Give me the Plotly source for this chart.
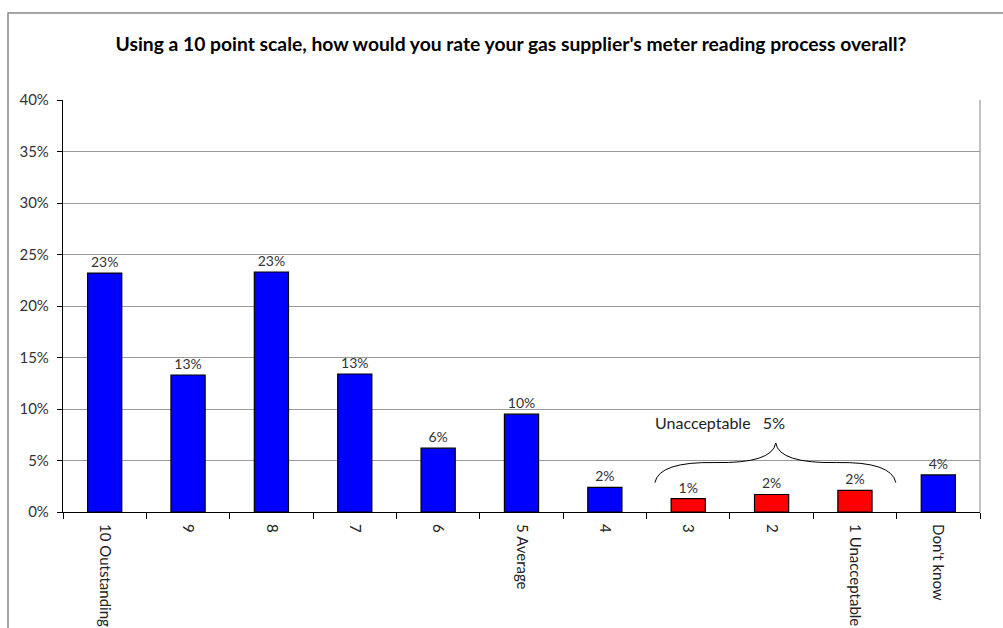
import plotly.graph_objects as go

categories = ["10 Outstanding", "9", "8", "7", "6", "5 Average", "4", "3", "2", "1 Unacceptable", "Don't know"]
values = [23.2, 13.3, 23.3, 13.4, 6.2, 9.5, 2.4, 1.3, 1.7, 2.1, 3.6]
labels = ["23%", "13%", "23%", "13%", "6%", "10%", "2%", "1%", "2%", "2%", "4%"]
colors = ["#0000FF"] * 7 + ["#FF0000"] * 3 + ["#0000FF"]
y_ticks = [0, 5, 10, 15, 20, 25, 30, 35, 40]
y_tick_text = [f"{v}%" for v in y_ticks]
group_label = "Unacceptable   5%"

FONT = "Lato, 'Open Sans', sans-serif"

fig = go.Figure()
fig.add_trace(go.Bar(
    x=categories, y=values, text=labels, textposition="outside",
    textfont=dict(size=14, color="#333333", family=FONT),
    marker=dict(color=colors, line=dict(color="#000000", width=1.2)),
    width=0.41, cliponaxis=False,
))

n = len(categories)
def px(idx):
    return (idx + 0.5) / n

# brace over the "unacceptable" bars (category index units, % units)
xl, xm, xr = 6.6, 8.05, 9.49
ye, yh, yp = 2.85, 4.8, 6.7
brace = (f"M {px(xl)},{ye} Q {px(xl+0.05)},{yh+0.1} {px(xl+0.72)},{yh} "
         f"Q {px(xm-0.04)},{yh-0.1} {px(xm)},{yp} "
         f"Q {px(xm+0.04)},{yh-0.1} {px(xr-0.71)},{yh} "
         f"Q {px(xr-0.05)},{yh+0.1} {px(xr)},{ye}")

fig.update_layout(
    width=1003, height=628,
    margin=dict(l=63, r=23, t=100, b=116),
    paper_bgcolor="white", plot_bgcolor="white",
    template="none",
    showlegend=False,
    title=dict(text="<b>Using a 10 point scale, how would you rate your gas supplier's meter reading process overall?</b>",
               x=511 / 1003, xanchor="center", y=1 - 44 / 628, yanchor="middle",
               font=dict(size=19.3, color="#000000", family=FONT)),
    font=dict(family=FONT, color="#333333"),
    xaxis=dict(
        type="category", range=[-0.5, n - 0.5], automargin=False,
        tickangle=90, tickfont=dict(size=15, color="#222222"),
        ticks="outside", tickson="boundaries", ticklen=6, tickcolor="#000000",
        ticklabelstandoff=8,
        showline=True, linecolor="#000000", linewidth=1.2,
        showgrid=False, zeroline=False,
    ),
    yaxis=dict(
        range=[0, 40], tickvals=y_ticks, ticktext=y_tick_text, automargin=False,
        tickfont=dict(size=15, color="#333333"),
        ticks="outside", ticklen=5, tickcolor="#000000",
        ticklabelstandoff=5,
        showline=True, linecolor="#000000", linewidth=1.2,
        showgrid=True, gridcolor="#9a9a9a", gridwidth=1.2, zeroline=False,
    ),
    shapes=[
        # right border of plot area
        dict(type="line", xref="paper", yref="paper", x0=1, x1=1, y0=0, y1=1,
             line=dict(color="#9a9a9a", width=1.2)),
        # outer chart frame (extends past the window on right and bottom)
        dict(type="rect", xref="paper", yref="paper",
             x0=(8 - 63) / 917, x1=(1015 - 63) / 917,
             y0=(512 - 640) / 412, y1=(512 - 13) / 412,
             line=dict(color="#888888", width=1.5), layer="below"),
        dict(type="path", xref="paper", yref="y", path=brace,
             line=dict(color="#000000", width=1)),
    ],
    annotations=[
        dict(text=group_label, x=px(8.18), y=8.7, xref="paper", yref="y",
             showarrow=False, font=dict(size=16, color="#222222", family=FONT)),
    ],
)

fig.write_html("out.html")
